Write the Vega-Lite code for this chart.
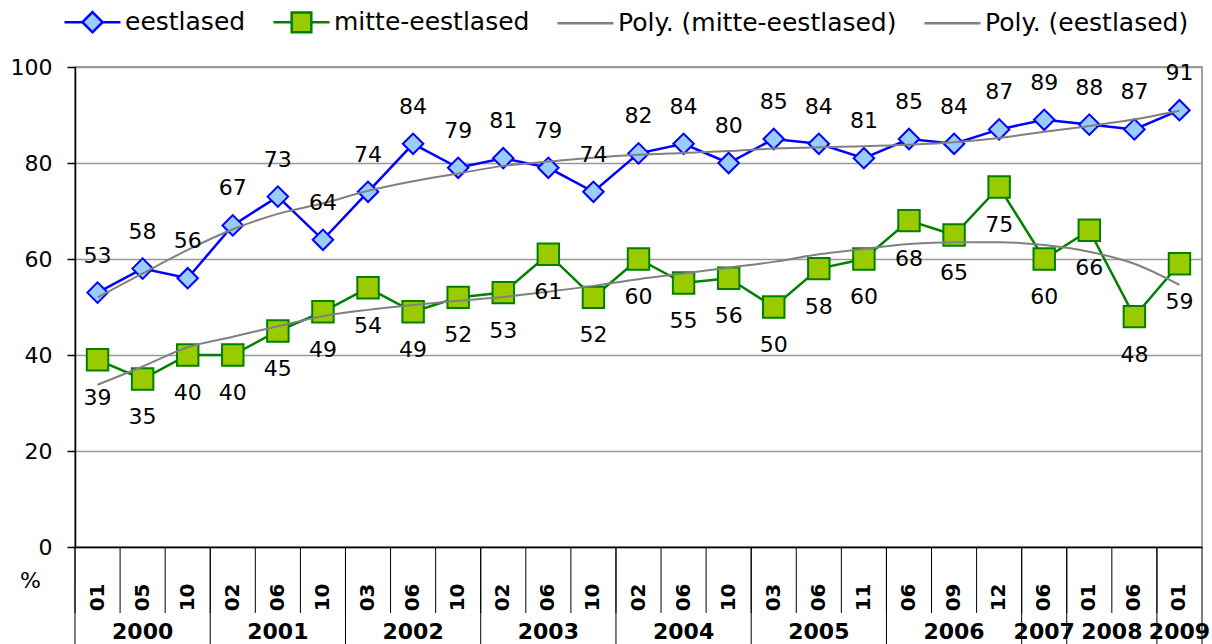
{
  "$schema": "https://vega.github.io/schema/vega-lite/v6.json",
  "width": 1127,
  "height": 480,
  "autosize": {"type": "none"},
  "padding": {"left": 75, "top": 67, "right": 10, "bottom": 97},
  "background": "white",
  "config": {
    "font": "DejaVu Sans",
    "view": {"stroke": "#808080", "strokeWidth": 1.5}
  },
  "datasets": {
    "main": [
      {"key": "2000-01", "eestlased": 53, "mitte": 39, "trend_mitte": 33.8, "trend_eest": 52},
      {"key": "2000-05", "eestlased": 58, "mitte": 35, "trend_mitte": 37.6, "trend_eest": 57},
      {"key": "2000-10", "eestlased": 56, "mitte": 40, "trend_mitte": 41.6, "trend_eest": 61.9},
      {"key": "2001-02", "eestlased": 67, "mitte": 40, "trend_mitte": 43.8, "trend_eest": 66.2},
      {"key": "2001-06", "eestlased": 73, "mitte": 45, "trend_mitte": 46, "trend_eest": 69.4},
      {"key": "2001-10", "eestlased": 64, "mitte": 49, "trend_mitte": 48.1, "trend_eest": 71.6},
      {"key": "2002-03", "eestlased": 74, "mitte": 54, "trend_mitte": 49.4, "trend_eest": 74.2},
      {"key": "2002-06", "eestlased": 84, "mitte": 49, "trend_mitte": 50.4, "trend_eest": 76.2},
      {"key": "2002-10", "eestlased": 79, "mitte": 52, "trend_mitte": 51.3, "trend_eest": 77.8},
      {"key": "2003-02", "eestlased": 81, "mitte": 53, "trend_mitte": 52.1, "trend_eest": 79.4},
      {"key": "2003-06", "eestlased": 79, "mitte": 61, "trend_mitte": 53.2, "trend_eest": 80.3},
      {"key": "2003-10", "eestlased": 74, "mitte": 52, "trend_mitte": 54.4, "trend_eest": 81.1},
      {"key": "2004-02", "eestlased": 82, "mitte": 60, "trend_mitte": 55.8, "trend_eest": 81.7},
      {"key": "2004-06", "eestlased": 84, "mitte": 55, "trend_mitte": 57, "trend_eest": 82.1},
      {"key": "2004-10", "eestlased": 80, "mitte": 56, "trend_mitte": 58.2, "trend_eest": 82.5},
      {"key": "2005-03", "eestlased": 85, "mitte": 50, "trend_mitte": 59.4, "trend_eest": 83},
      {"key": "2005-06", "eestlased": 84, "mitte": 58, "trend_mitte": 61, "trend_eest": 83.3},
      {"key": "2005-11", "eestlased": 81, "mitte": 60, "trend_mitte": 62.1, "trend_eest": 83.5},
      {"key": "2006-06", "eestlased": 85, "mitte": 68, "trend_mitte": 63.1, "trend_eest": 83.8},
      {"key": "2006-09", "eestlased": 84, "mitte": 65, "trend_mitte": 63.5, "trend_eest": 84.3},
      {"key": "2006-12", "eestlased": 87, "mitte": 75, "trend_mitte": 63.5, "trend_eest": 85.2},
      {"key": "2007-06", "eestlased": 89, "mitte": 60, "trend_mitte": 62.9, "trend_eest": 86.5},
      {"key": "2008-01", "eestlased": 88, "mitte": 66, "trend_mitte": 61.5, "trend_eest": 87.7},
      {"key": "2008-06", "eestlased": 87, "mitte": 48, "trend_mitte": 59, "trend_eest": 89.1},
      {"key": "2009-01", "eestlased": 91, "mitte": 59, "trend_mitte": 54.6, "trend_eest": 90.9}
    ],
    "years": [
      {"year": "2000", "start": "2000-01", "mid": "2000-05", "even": false},
      {"year": "2001", "start": "2001-02", "mid": "2001-06", "even": false},
      {"year": "2002", "start": "2002-03", "mid": "2002-06", "even": false},
      {"year": "2003", "start": "2003-02", "mid": "2003-06", "even": false},
      {"year": "2004", "start": "2004-02", "mid": "2004-06", "even": false},
      {"year": "2005", "start": "2005-03", "mid": "2005-06", "even": false},
      {"year": "2006", "start": "2006-06", "mid": "2006-09", "even": false},
      {"year": "2007", "start": "2007-06", "mid": "2007-06", "even": false},
      {"year": "2008", "start": "2008-01", "mid": "2008-06", "even": true},
      {"year": "2009", "start": "2009-01", "mid": "2009-01", "even": false}
    ]
  },
  "data": {"name": "main"},
  "transform": [
    {"fold": ["eestlased", "mitte", "trend_mitte", "trend_eest"], "as": ["series", "value"]}
  ],
  "layer": [
    {
      "transform": [{"filter": "datum.series === 'eestlased' || datum.series === 'mitte'"}],
      "mark": {"type": "line", "strokeWidth": 2.5},
      "encoding": {
        "x": {
          "field": "key", "type": "ordinal",
          "scale": {"type": "band", "paddingInner": 0, "paddingOuter": 0},
          "axis": {
            "title": null,
            "labelExpr": "substring(datum.value, 5, 7)",
            "labelAngle": 270,
            "labelFont": "DejaVu Sans",
            "labelFontWeight": "bold",
            "labelFontSize": 20,
            "labelColor": "black",
            "labelPadding": 36,
            "ticks": false,
            "domainColor": "black",
            "domainWidth": 1.5,
            "grid": false
          }
        },
        "y": {
          "field": "value", "type": "quantitative",
          "scale": {"domain": [0, 100], "nice": false},
          "axis": {
            "values": [0, 20, 40, 60, 80, 100],
            "title": "%",
            "titleAngle": 0,
            "titleX": -45,
            "titleY": 513,
            "titleAlign": "center",
            "titleBaseline": "middle",
            "titleFont": "DejaVu Sans",
            "titleFontSize": 22,
            "titleFontWeight": "normal",
            "titleColor": "black",
            "labelFont": "DejaVu Sans",
            "labelFontSize": 22,
            "labelColor": "black",
            "labelPadding": 15,
            "tickSize": 8,
            "tickColor": "black",
            "tickWidth": 1.5,
            "domainColor": "black",
            "domainWidth": 1.5,
            "grid": true,
            "gridColor": "#999999",
            "gridWidth": 1.5
          }
        },
        "color": {
          "field": "series", "type": "nominal",
          "scale": {
            "domain": ["eestlased", "mitte", "trend_mitte", "trend_eest"],
            "range": ["#0000FF", "#008000", "#808080", "#808080"]
          },
          "legend": {
            "title": null,
            "orient": "none",
            "direction": "horizontal",
            "legendX": -12,
            "legendY": -74.5,
            "symbolSize": 3136,
            "symbolStrokeWidth": 2.5,
            "labelFont": "DejaVu Sans",
            "labelFontSize": 25,
            "labelColor": "black",
            "labelOffset": 3,
            "labelLimit": 500,
            "columnPadding": 22,
            "labelExpr": "datum.value === 'eestlased' ? 'eestlased' : datum.value === 'mitte' ? 'mitte-eestlased' : datum.value === 'trend_mitte' ? 'Poly. (mitte-eestlased)' : 'Poly. (eestlased)'",
            "encode": {
              "symbols": {
                "update": {
                  "size": {"value": 3136},
                  "shape": {"signal": "datum.value === 'eestlased' ? 'M-1,0L-0.36,0M0.36,0L1,0M0,-0.36L0.36,0L0,0.36L-0.36,0Z' : datum.value === 'mitte' ? 'M-1,0L-0.35,0M0.35,0L1,0M-0.35,-0.35L0.35,-0.35L0.35,0.35L-0.35,0.35Z' : 'M-1,0L1,0'"},
                  "fill": {"signal": "datum.value === 'eestlased' ? '#99CCFF' : datum.value === 'mitte' ? '#99CC00' : 'transparent'"},
                  "stroke": {"signal": "datum.value === 'eestlased' ? '#0000FF' : datum.value === 'mitte' ? '#008000' : '#808080'"},
                  "strokeWidth": {"value": 2.5},
                  "opacity": {"value": 1},
                  "fillOpacity": {"value": 1},
                  "strokeOpacity": {"value": 1}
                }
              }
            }
          }
        },
        "detail": {"field": "series"}
      }
    },
    {
      "transform": [{"filter": "datum.series === 'eestlased' || datum.series === 'mitte'"}],
      "mark": {"type": "point", "filled": false, "strokeWidth": 2, "opacity": 1},
      "encoding": {
        "x": {"field": "key", "type": "ordinal"},
        "y": {"field": "value", "type": "quantitative"},
        "shape": {"field": "series", "type": "nominal", "scale": {"domain": ["eestlased", "mitte"], "range": ["diamond", "square"]}, "legend": null},
        "fill": {"field": "series", "type": "nominal", "scale": {"domain": ["eestlased", "mitte"], "range": ["#99CCFF", "#99CC00"]}, "legend": null},
        "stroke": {"field": "series", "type": "nominal", "scale": {"domain": ["eestlased", "mitte"], "range": ["#0000FF", "#008000"]}, "legend": null},
        "size": {"field": "series", "type": "nominal", "scale": {"domain": ["eestlased", "mitte"], "range": [420, 460]}, "legend": null}
      }
    },
    {
      "transform": [{"filter": "datum.series === 'trend_mitte' || datum.series === 'trend_eest'"}],
      "mark": {"type": "line", "strokeWidth": 2, "interpolate": "monotone"},
      "encoding": {
        "x": {"field": "key", "type": "ordinal"},
        "y": {"field": "value", "type": "quantitative"},
        "color": {"field": "series", "type": "nominal"},
        "detail": {"field": "series"}
      }
    },
    {
      "transform": [{"filter": "datum.series === 'eestlased'"}],
      "mark": {"type": "text", "dy": -37, "fontSize": 22, "font": "DejaVu Sans", "color": "black", "align": "center", "baseline": "middle"},
      "encoding": {
        "x": {"field": "key", "type": "ordinal"},
        "y": {"field": "value", "type": "quantitative"},
        "text": {"field": "value", "type": "quantitative"}
      }
    },
    {
      "transform": [{"filter": "datum.series === 'mitte'"}],
      "mark": {"type": "text", "dy": 38, "fontSize": 22, "font": "DejaVu Sans", "color": "black", "align": "center", "baseline": "middle"},
      "encoding": {
        "x": {"field": "key", "type": "ordinal"},
        "y": {"field": "value", "type": "quantitative"},
        "text": {"field": "value", "type": "quantitative"}
      }
    },
    {
      "transform": [{"filter": "datum.series === 'eestlased'"}],
      "mark": {"type": "rule", "color": "black", "strokeWidth": 1},
      "encoding": {
        "x": {"field": "key", "type": "ordinal", "bandPosition": 0},
        "y": {"datum": 0},
        "y2": {"datum": -13.75}
      }
    },
    {
      "data": {"name": "years"},
      "mark": {"type": "rule", "color": "black", "strokeWidth": 1},
      "encoding": {
        "x": {"field": "start", "type": "ordinal", "bandPosition": 0},
        "y": {"datum": 0},
        "y2": {"datum": -20.6}
      }
    },
    {
      "data": {"name": "years"},
      "transform": [{"filter": "datum.year === '2009'"}],
      "mark": {"type": "rule", "color": "black", "strokeWidth": 1},
      "encoding": {
        "x": {"field": "start", "type": "ordinal", "bandPosition": 1},
        "y": {"datum": 0},
        "y2": {"datum": -20.6}
      }
    },
    {
      "data": {"name": "years"},
      "transform": [{"filter": "!datum.even"}],
      "mark": {"type": "text", "fontSize": 22, "fontWeight": "bold", "font": "DejaVu Sans", "color": "black", "align": "center", "baseline": "middle"},
      "encoding": {
        "x": {"field": "mid", "type": "ordinal", "bandPosition": 0.5},
        "y": {"datum": -17.7},
        "text": {"field": "year"}
      }
    },
    {
      "data": {"name": "years"},
      "transform": [{"filter": "datum.even"}],
      "mark": {"type": "text", "fontSize": 22, "fontWeight": "bold", "font": "DejaVu Sans", "color": "black", "align": "center", "baseline": "middle"},
      "encoding": {
        "x": {"field": "mid", "type": "ordinal", "bandPosition": 0},
        "y": {"datum": -17.7},
        "text": {"field": "year"}
      }
    }
  ]
}
